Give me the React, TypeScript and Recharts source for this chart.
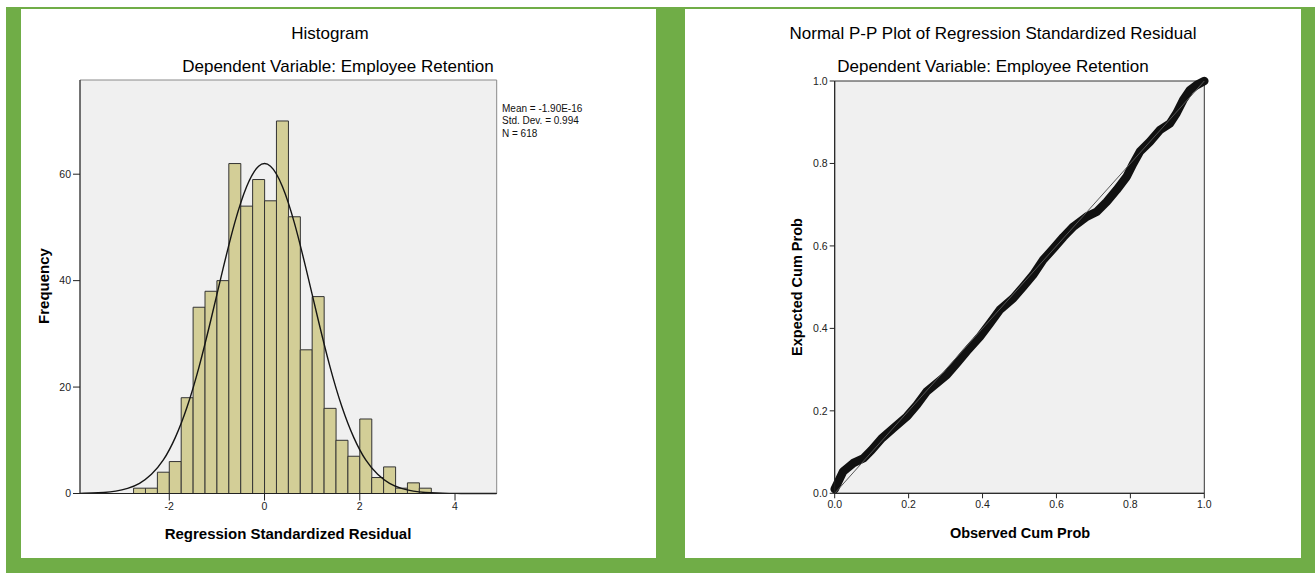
import {
  ComposedChart,
  Bar,
  Line,
  XAxis,
  YAxis,
  CartesianGrid,
  ReferenceArea,
  ReferenceLine,
} from 'recharts';

// histogram: bin centres on a 0.25 grid across the whole x range, with counts
// (null where the bin is empty) and the fitted normal curve read at each centre
const binCenters = [
  -3.875, -3.625, -3.375, -3.125, -2.875, -2.625, -2.375, -2.125, -1.875,
  -1.625, -1.375, -1.125, -0.875, -0.625, -0.375, -0.125, 0.125, 0.375, 0.625,
  0.875, 1.125, 1.375, 1.625, 1.875, 2.125, 2.375, 2.625, 2.875, 3.125, 3.375,
  3.625, 3.875, 4.125, 4.375, 4.625, 4.875,
];
const binCounts = [
  null, null, null, null, null, 1, 1, 4, 6, 18, 35, 38, 40, 62, 54, 59, 55, 70,
  52, 27, 37, 16, 10, 7, 14, 3, 5, 1, 2, 1, null, null, null, null, null, null,
];
const curveValues = [
  0.03, 0.08, 0.19, 0.44, 0.95, 1.9, 3.6, 6.3, 10.5, 16.3, 23.8, 32.7, 42.1,
  50.9, 57.7, 61.5, 61.5, 57.7, 50.9, 42.1, 32.7, 23.8, 16.3, 10.5, 6.3, 3.6,
  1.9, 0.95, 0.44, 0.19, 0.08, 0.03, 0.01, 0, 0, 0,
];
const histRange = [-3.875, 4.875];
const histXTicks = [-2, 0, 2, 4];
const histYTicks = [0, 20, 40, 60];
const histYMax = 77.7;

const legendLines = ['Mean = -1.90E-16', 'Std. Dev. = 0.994', 'N = 618'];

// P-P plot
const ppObserved = [
  0, 0.023, 0.05, 0.078, 0.1, 0.127, 0.159, 0.195, 0.222, 0.249, 0.276, 0.303,
  0.33, 0.357, 0.393, 0.42, 0.447, 0.483, 0.51, 0.537, 0.564, 0.592, 0.619,
  0.646, 0.682, 0.709, 0.736, 0.763, 0.79, 0.808, 0.826, 0.853, 0.88, 0.907,
  0.925, 0.943, 0.961, 0.979, 1,
];
const ppExpected = [
  0.01, 0.053, 0.073, 0.085, 0.105, 0.133, 0.158, 0.186, 0.214, 0.247, 0.267,
  0.287, 0.315, 0.344, 0.38, 0.412, 0.445, 0.473, 0.501, 0.53, 0.566, 0.594,
  0.622, 0.647, 0.671, 0.683, 0.707, 0.736, 0.768, 0.8, 0.829, 0.853, 0.881,
  0.897, 0.922, 0.954, 0.978, 0.99, 1,
];
const ppTicks = [0, 0.2, 0.4, 0.6, 0.8, 1];

const FONT = '"Liberation Sans", Arial, sans-serif';
const GREEN = '#70ad47';
const tickStyle = { fontSize: 10.5, fill: '#222', fontFamily: FONT };

const histData = binCenters.map((x, i) => ({
  x,
  count: binCounts[i],
  curve: curveValues[i],
}));
const ppData = ppObserved.map((obs, i) => ({ obs, exp: ppExpected[i] }));

function Text({
  x,
  y,
  size,
  bold,
  rotate,
  children,
}: {
  x: number;
  y: number;
  size: number;
  bold?: boolean;
  rotate?: boolean;
  children: string;
}) {
  return (
    <div
      style={{
        position: 'absolute',
        left: x,
        top: y,
        transform: `translate(-50%, -50%)${rotate ? ' rotate(-90deg)' : ''}`,
        fontFamily: FONT,
        fontSize: size,
        fontWeight: bold ? 'bold' : 'normal',
        whiteSpace: 'nowrap',
        lineHeight: 1,
        color: '#000',
      }}
    >
      {children}
    </div>
  );
}

export default function App() {
  return (
    <div
      style={{
        position: 'absolute',
        left: 0,
        top: 0,
        width: 1315,
        height: 573,
        background: '#fff',
        overflow: 'hidden',
      }}
    >
      <div style={{ position: 'absolute', left: 6, top: 7, right: 0, bottom: 0, background: GREEN }} />
      <div style={{ position: 'absolute', left: 21, top: 9, width: 635, height: 549, background: '#fff' }} />
      <div style={{ position: 'absolute', left: 685, top: 9, width: 616, height: 549, background: '#fff' }} />

      {/* histogram */}
      <div style={{ position: 'absolute', left: 0, top: 0 }}>
        <ComposedChart
          width={520}
          height={540}
          data={histData}
          margin={{ top: 80, right: 23.3, bottom: 16.5, left: 30 }}
          barCategoryGap={0}
          barGap={0}
        >
          <CartesianGrid fill="#f0f0f0" horizontal={false} vertical={false} />
          <ReferenceArea
            x1={histRange[0]}
            x2={histRange[1]}
            y1={0}
            y2={histYMax}
            fill="none"
            stroke="#8a8a8a"
          />
          <XAxis
            type="number"
            dataKey="x"
            domain={histRange}
            ticks={histXTicks}
            allowDataOverflow
            height={30}
            tickSize={7}
            tick={tickStyle}
            tickLine={{ stroke: '#222' }}
            axisLine={{ stroke: '#222' }}
          />
          <YAxis
            type="number"
            domain={[0, histYMax]}
            ticks={histYTicks}
            width={50}
            tickSize={7}
            tick={tickStyle}
            tickLine={{ stroke: '#222' }}
            axisLine={{ stroke: '#222' }}
          />
          <Bar
            dataKey="count"
            fill="#d3ce97"
            stroke="#333"
            strokeWidth={1}
            isAnimationActive={false}
          />
          <Line
            dataKey="curve"
            type="natural"
            dot={false}
            stroke="#151515"
            strokeWidth={1.4}
            isAnimationActive={false}
          />
        </ComposedChart>
      </div>

      <div
        style={{
          position: 'absolute',
          left: 502,
          top: 103,
          fontFamily: FONT,
          fontSize: 10,
          lineHeight: '12.3px',
          color: '#111',
          whiteSpace: 'nowrap',
        }}
      >
        {legendLines.map((l) => (
          <div key={l}>{l}</div>
        ))}
      </div>

      <Text x={330} y={33} size={17}>Histogram</Text>
      <Text x={338} y={66} size={17}>Dependent Variable: Employee Retention</Text>
      <Text x={43} y={286} size={15} bold rotate>Frequency</Text>
      <Text x={288} y={533} size={15} bold>Regression Standardized Residual</Text>

      {/* P-P plot */}
      <div style={{ position: 'absolute', left: 770, top: 0 }}>
        <ComposedChart
          width={459.3}
          height={540}
          data={ppData}
          margin={{ top: 81, right: 25, bottom: 16.7, left: 24.7 }}
        >
          <CartesianGrid fill="#f0f0f0" horizontal={false} vertical={false} />
          <ReferenceArea x1={0} x2={1} y1={0} y2={1} fill="none" stroke="#333" />
          <XAxis
            type="number"
            dataKey="obs"
            domain={[0, 1]}
            ticks={ppTicks}
            tickFormatter={(v: number) => v.toFixed(1)}
            height={30}
            tickSize={5}
            tick={tickStyle}
            tickLine={{ stroke: '#222' }}
            axisLine={{ stroke: '#222' }}
          />
          <YAxis
            type="number"
            domain={[0, 1]}
            ticks={ppTicks}
            tickFormatter={(v: number) => v.toFixed(1)}
            width={40}
            tickSize={5}
            tick={tickStyle}
            tickLine={{ stroke: '#222' }}
            axisLine={{ stroke: '#222' }}
          />
          <Line
            dataKey="exp"
            type="linear"
            dot={false}
            stroke="#111"
            strokeWidth={8.5}
            strokeLinecap="round"
            strokeLinejoin="round"
            isAnimationActive={false}
          />
          <ReferenceLine
            segment={[
              { x: 0, y: 0 },
              { x: 1, y: 1 },
            ]}
            stroke="#555"
            strokeWidth={1}
          />
        </ComposedChart>
      </div>

      <Text x={993} y={33} size={17}>Normal P-P Plot of Regression Standardized Residual</Text>
      <Text x={993} y={66} size={17}>Dependent Variable: Employee Retention</Text>
      <Text x={797} y={287} size={14.5} bold rotate>Expected Cum Prob</Text>
      <Text x={1020} y={533} size={14.5} bold>Observed Cum Prob</Text>
    </div>
  );
}
